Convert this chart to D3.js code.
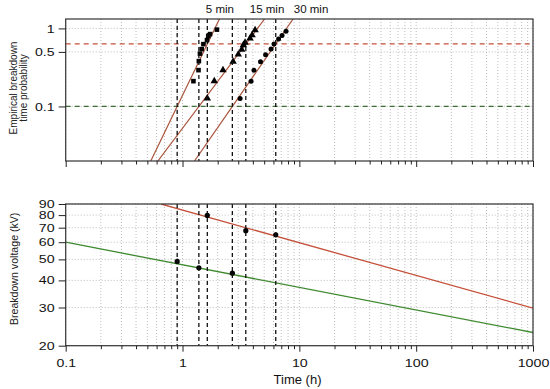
<!DOCTYPE html>
<html>
<head>
<meta charset="utf-8">
<script src="https://cdn.jsdelivr.net/npm/d3@7"></script>
<style>
  body { margin: 0; background: #fff; }
  svg { font-family: Arial, "Liberation Sans", sans-serif; }
  .grid line { stroke: #bdbdbd; stroke-dasharray: 1,2; }
  .axis path, .axis line { stroke: #222; }
  .axis text { font-size: 11.5px; fill: #111; }
</style>
</head>
<body>
<svg width="550" height="389"></svg>
<script>
// ---- data ----
var tickT = [0.1, 1, 10, 100, 1000];
var tickP = [0.1, 0.5, 1];
var tickV = [20, 30, 40, 50, 60, 70, 80, 90];

var durations = ['5 min', '15 min', '30 min'];
var labelT = [2.09, 5.29, 12.6];

// times where each fit crosses 10 % and 63.2 %
var t10 = [0.90, 1.38, 2.67];
var t63 = [1.63, 3.48, 6.28];
var levelLow = 0.1;
var levelChar = 0.632;

// fit lines of the top panel, [t, p] at both ends
var fit5 = [[0.535, 0.02], [2.07, 1.32]];
var fit15 = [[0.615, 0.02], [5.04, 1.32]];
var fit30 = [[1.265, 0.02], [8.84, 1.32]];

var pts5 = [[1.24, 0.211], [1.37, 0.292], [1.38, 0.381], [1.41, 0.475], [1.46, 0.543],
            [1.51, 0.629], [1.62, 0.708], [1.66, 0.797], [1.72, 0.845], [1.97, 0.965]];
var pts15 = [[1.63, 0.127], [1.87, 0.211], [2.22, 0.292], [2.71, 0.375], [3.00, 0.464],
             [3.21, 0.535], [3.32, 0.611], [3.43, 0.658], [3.78, 0.744], [3.94, 0.821], [4.18, 0.951]];
var pts30 = [[3.11, 0.126], [3.86, 0.211], [4.09, 0.292], [4.65, 0.375], [5.14, 0.461],
             [5.72, 0.543], [6.07, 0.629], [6.64, 0.729], [7.11, 0.809], [7.69, 0.923]];

// bottom panel
var v10 = [48.9, 45.7, 43.2];
var v63 = [79.7, 67.8, 64.9];
var lineV63 = [[0.655, 90], [1000, 29.8]];
var lineV10 = [[0.1, 60], [1000, 23]];

// ---- layout ----
var svg = d3.select('svg');
var left = 65.7, right = 533;
var top1 = 19, bot1 = 161;
var top2 = 204, bot2 = 345.7;

var x = d3.scaleLog().domain([0.1, 1000]).range([left, right]);
var yP = d3.scaleLog().domain([0.02, 1.32]).range([bot1, top1]);
var yV = d3.scaleLog().domain([20, 90]).range([bot2, top2]);

var colRed = '#c4503a';
var colFit = '#a9543c';
var colGreen = '#3f8a30';
var colGreenDash = '#3e6f35';

// minor x ticks 1..9 per decade
var minorT = [];
for (var e = -1; e < 3; e++) {
    for (var m = 1; m < 10; m++) minorT.push(m * Math.pow(10, e));
}
minorT.push(1000);

function panel(yScale, yTop, yBot, gridY) {
    var g = svg.append('g');
    g.append('g').attr('class', 'grid')
        .selectAll('line').data(minorT).enter().append('line')
        .attr('x1', d => x(d)).attr('x2', d => x(d))
        .attr('y1', yTop).attr('y2', yBot);
    g.append('g').attr('class', 'grid')
        .selectAll('line').data(gridY).enter().append('line')
        .attr('x1', left).attr('x2', right)
        .attr('y1', d => yScale(d)).attr('y2', d => yScale(d));
    return g;
}

var g1 = panel(yP, top1, bot1, tickP);
var g2 = panel(yV, top2, bot2, tickV);

svg.append('clipPath').attr('id', 'clip1').append('rect')
    .attr('x', left).attr('y', top1).attr('width', right - left).attr('height', bot1 - top1);
svg.append('clipPath').attr('id', 'clip2').append('rect')
    .attr('x', left).attr('y', top2).attr('width', right - left).attr('height', bot2 - top2);

// horizontal reference levels
g1.append('line')
    .attr('x1', left).attr('x2', right)
    .attr('y1', yP(levelChar)).attr('y2', yP(levelChar))
    .style('stroke', colRed).style('stroke-width', 1.3).style('stroke-dasharray', '5,4');
g1.append('line')
    .attr('x1', left).attr('x2', right)
    .attr('y1', yP(levelLow)).attr('y2', yP(levelLow))
    .style('stroke', colGreenDash).style('stroke-width', 1.3).style('stroke-dasharray', '5,4');

// vertical dashed lines, both panels
var vt = t10.concat(t63);
[[top1, bot1], [top2, bot2]].forEach(function(r) {
    svg.append('g').selectAll('line').data(vt).enter().append('line')
        .attr('x1', d => x(d)).attr('x2', d => x(d))
        .attr('y1', r[0]).attr('y2', r[1])
        .style('stroke', '#111').style('stroke-width', 1.3).style('stroke-dasharray', '4,3');
});

// fit lines
var line = d3.line().x(d => x(d[0])).y(d => yP(d[1]));
g1.append('g').attr('clip-path', 'url(#clip1)')
    .selectAll('path').data([fit5, fit15, fit30]).enter().append('path')
    .attr('d', line)
    .style('fill', 'none').style('stroke', colFit).style('stroke-width', 1.2);

// markers
g1.append('g').selectAll('rect').data(pts5).enter().append('rect')
    .attr('x', d => x(d[0]) - 2.3).attr('y', d => yP(d[1]) - 2.3)
    .attr('width', 4.6).attr('height', 4.6).style('fill', '#000');
g1.append('g').selectAll('path').data(pts15).enter().append('path')
    .attr('d', d3.symbol().type(d3.symbolTriangle).size(24))
    .attr('transform', d => 'translate(' + [x(d[0]), yP(d[1])] + ')')
    .style('fill', '#000');
g1.append('g').selectAll('circle').data(pts30).enter().append('circle')
    .attr('cx', d => x(d[0])).attr('cy', d => yP(d[1])).attr('r', 2.5)
    .style('fill', '#000');

// duration labels
svg.append('g').selectAll('text').data(durations).enter().append('text')
    .attr('x', (d, i) => x(labelT[i])).attr('y', 13)
    .attr('text-anchor', 'middle')
    .style('font-size', '11.5px').style('fill', '#111')
    .text(d => d);

// bottom panel lines
var lineV = d3.line().x(d => x(d[0])).y(d => yV(d[1]));
g2.append('g').attr('clip-path', 'url(#clip2)')
    .selectAll('path').data([lineV63, lineV10]).enter().append('path')
    .attr('d', lineV)
    .style('fill', 'none')
    .style('stroke', (d, i) => i == 0 ? colRed : colGreen)
    .style('stroke-width', 1.3);

g2.append('g').selectAll('circle').data(t10).enter().append('circle')
    .attr('cx', d => x(d)).attr('cy', (d, i) => yV(v10[i])).attr('r', 2.6).style('fill', '#000');
g2.append('g').selectAll('circle').data(t63).enter().append('circle')
    .attr('cx', d => x(d)).attr('cy', (d, i) => yV(v63[i])).attr('r', 2.6).style('fill', '#000');

// frames
[[top1, bot1], [top2, bot2]].forEach(function(r) {
    svg.append('rect')
        .attr('x', left).attr('y', r[0]).attr('width', right - left).attr('height', r[1] - r[0])
        .style('fill', 'none').style('stroke', '#333').style('stroke-width', 1.2);
});

// tick labels in the picture are drawn wide, so stretch them a little
function widen(sel) {
    sel.each(function() {
        var s = this.textContent;
        var w = 0;
        for (var k = 0; k < s.length; k++) w += (s[k] == '.') ? 3.8 : 7.9;
        d3.select(this).attr('textLength', w).attr('lengthAdjust', 'spacingAndGlyphs');
    });
}

// axes
function xAxes(yPos, labels) {
    var major = d3.axisBottom(x).tickValues(tickT).tickSize(6).tickSizeOuter(0)
        .tickFormat(labels ? d => d : '');
    var gx = svg.append('g').attr('class', 'x axis')
        .attr('transform', 'translate(0,' + yPos + ')').call(major);
    gx.select('.domain').remove();
    gx.selectAll('text').attr('dy', '1.05em').call(widen);
    var minor = d3.axisBottom(x).tickValues(minorT.filter(d => tickT.indexOf(d) < 0))
        .tickSize(3.5).tickFormat('');
    var gm = svg.append('g').attr('class', 'x axis')
        .attr('transform', 'translate(0,' + yPos + ')').call(minor);
    gm.select('.domain').remove();
}
xAxes(bot1, false);
xAxes(bot2, true);

var ay1 = svg.append('g').attr('class', 'y axis')
    .attr('transform', 'translate(' + left + ',0)')
    .call(d3.axisLeft(yP).tickValues(tickP).tickSize(7).tickFormat(d => d));
ay1.select('.domain').remove();
ay1.selectAll('text').attr('dx', '-0.1em').call(widen);

var ay2 = svg.append('g').attr('class', 'y axis')
    .attr('transform', 'translate(' + left + ',0)')
    .call(d3.axisLeft(yV).tickValues(tickV).tickSize(7).tickFormat(d => d));
ay2.select('.domain').remove();
ay2.selectAll('text').attr('dx', '-0.1em').style('font-size', '11px').call(widen);

// axis titles
var t1 = svg.append('text')
    .attr('transform', 'translate(' + [17, (top1 + bot1) / 2 - 2] + ') rotate(-90)')
    .attr('text-anchor', 'middle')
    .style('font-size', '10px').style('fill', '#222');
t1.append('tspan').attr('x', 0).attr('dy', 0).text('Empirical breakdown');
t1.append('tspan').attr('x', 0).attr('dy', '1.0em').text('time probability');

svg.append('text')
    .attr('transform', 'translate(' + [18, (top2 + bot2) / 2 - 6] + ') rotate(-90)')
    .attr('text-anchor', 'middle')
    .style('font-size', '10.6px').style('fill', '#222')
    .text('Breakdown voltage (kV)');

svg.append('text')
    .attr('x', x(9.65)).attr('y', 384)
    .attr('text-anchor', 'middle')
    .style('font-size', '13px').style('fill', '#111')
    .text('Time (h)');
</script>
</body>
</html>
